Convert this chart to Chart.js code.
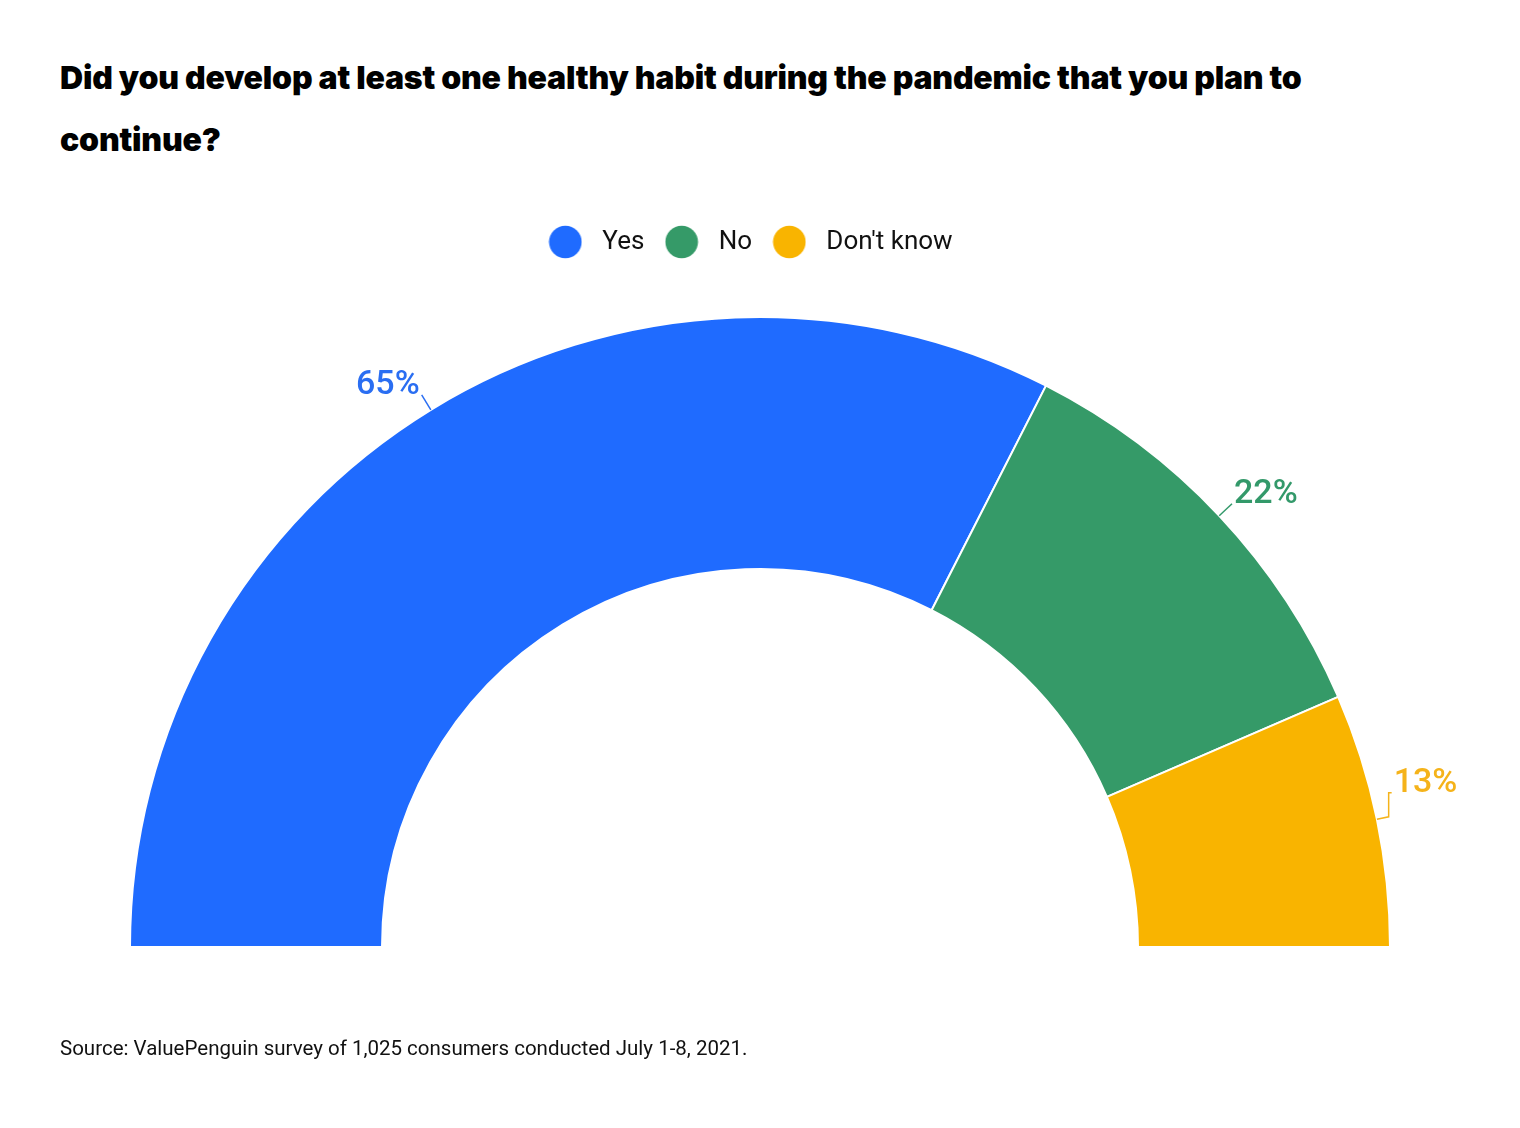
<!DOCTYPE html>
<html>
<head>
<meta charset="utf-8">
<script src="https://cdn.jsdelivr.net/npm/chart.js@4"></script>
<style>
  html, body { margin: 0; padding: 0; background: #ffffff; }
  body { width: 1520px; height: 1128px; position: relative; overflow: hidden; }
  #title {
    position: absolute; left: 60px; top: 47px;
    font-family: "Inter", "Roboto", sans-serif; font-weight: 900;
    font-size: 32px; line-height: 62px; letter-spacing: -0.2px; color: #000;
    white-space: nowrap;
  }
  #source {
    position: absolute; left: 60px; top: 1036px;
    font-family: "Roboto", sans-serif; font-size: 20.5px; color: #111;
    white-space: nowrap;
  }
  #wrap { position: absolute; left: 0; top: 0; width: 1520px; height: 1128px; }
</style>
</head>
<body>
<div id="title">Did you develop at least one healthy habit during the pandemic that you plan to<br>continue?</div>
<div id="wrap"><canvas id="chart"></canvas></div>
<div id="source">Source: ValuePenguin survey of 1,025 consumers conducted July 1-8, 2021.</div>
<script>
const categories = ["Yes", "No", "Don't know"];
const values = [65, 22, 13];
const valueLabels = ["65%", "22%", "13%"];
const sliceColors = ["#1f6bff", "#359a68", "#f9b400"];
const labelColors = ["#2a6ef2", "#33996a", "#f5b31a"];

function circleImage(color) {
  const c = document.createElement('canvas');
  c.width = 34; c.height = 34;
  const g = c.getContext('2d');
  g.fillStyle = color;
  g.beginPath();
  g.arc(17, 17, 16.3, 0, Math.PI * 2);
  g.fill();
  return c;
}
const legendImages = sliceColors.map(circleImage);

const legendShift = {
  id: 'legendShift',
  afterLayout(chart, args, opts) {
    if (chart.legend) {
      chart.legend.left += opts.dx;
      chart.legend.right += opts.dx;
    }
  }
};

const labelPlugin = {
  id: 'sliceLabels',
  afterDatasetsDraw(chart, args, opts) {
    const ctx = chart.ctx;
    const meta = chart.getDatasetMeta(0);
    meta.data.forEach((arc, i) => {
      const p = arc.getProps(['x', 'y', 'startAngle', 'endAngle', 'outerRadius'], true);
      const mid = (p.startAngle + p.endAngle) / 2;
      const cx = Math.cos(mid), cy = Math.sin(mid);
      const sx = p.x + cx * p.outerRadius, sy = p.y + cy * p.outerRadius;
      const shift = opts.shiftY[i] || 0;
      const len = shift ? 12 : 17.5;
      let ex = sx + cx * len, ey = sy + cy * len;
      ctx.save();
      ctx.strokeStyle = labelColors[i];
      ctx.lineWidth = 1.5;
      ctx.beginPath();
      ctx.moveTo(sx, sy);
      ctx.lineTo(ex, ey);
      if (shift) {
        ey += shift;
        ctx.lineTo(ex, ey);
        ex += 3;
        ctx.lineTo(ex, ey);
      }
      ctx.stroke();
      ctx.fillStyle = labelColors[i];
      ctx.font = '500 34px Roboto, sans-serif';
      ctx.textBaseline = 'alphabetic';
      if (cx < 0) {
        ctx.textAlign = 'right';
        ctx.fillText(valueLabels[i], ex - 2, ey - 1);
      } else {
        ctx.textAlign = 'left';
        ctx.fillText(valueLabels[i], ex + 2, ey - 1);
      }
      ctx.restore();
    });
  }
};

new Chart(document.getElementById('chart'), {
  type: 'doughnut',
  data: {
    labels: categories,
    datasets: [{
      data: values,
      backgroundColor: sliceColors,
      borderColor: '#ffffff',
      borderWidth: 2,
      hoverOffset: 0
    }]
  },
  options: {
    responsive: true,
    maintainAspectRatio: false,
    animation: false,
    rotation: -90,
    circumference: 180,
    cutout: '60%',
    layout: { padding: { top: 215.7, left: 129, right: 129, bottom: 129 } },
    plugins: {
      tooltip: { enabled: false },
      title: { display: false },
      sliceLabels: { shiftY: [0, 0, -24] },
      legendShift: { dx: -13 },
      legend: {
        display: true,
        position: 'top',
        align: 'center',
        labels: {
          usePointStyle: true,
          pointStyleWidth: 48,
          boxHeight: 26,
          padding: 13.3,
          color: '#111111',
          font: { family: 'Roboto, sans-serif', size: 26 },
          generateLabels(chart) {
            const items = Chart.overrides.doughnut.plugins.legend.labels.generateLabels(chart);
            return items.map((it, i) => Object.assign(it, { pointStyle: legendImages[i], fontColor: '#111111' }));
          }
        }
      }
    }
  },
  plugins: [labelPlugin, legendShift]
});
</script>
</body>
</html>
